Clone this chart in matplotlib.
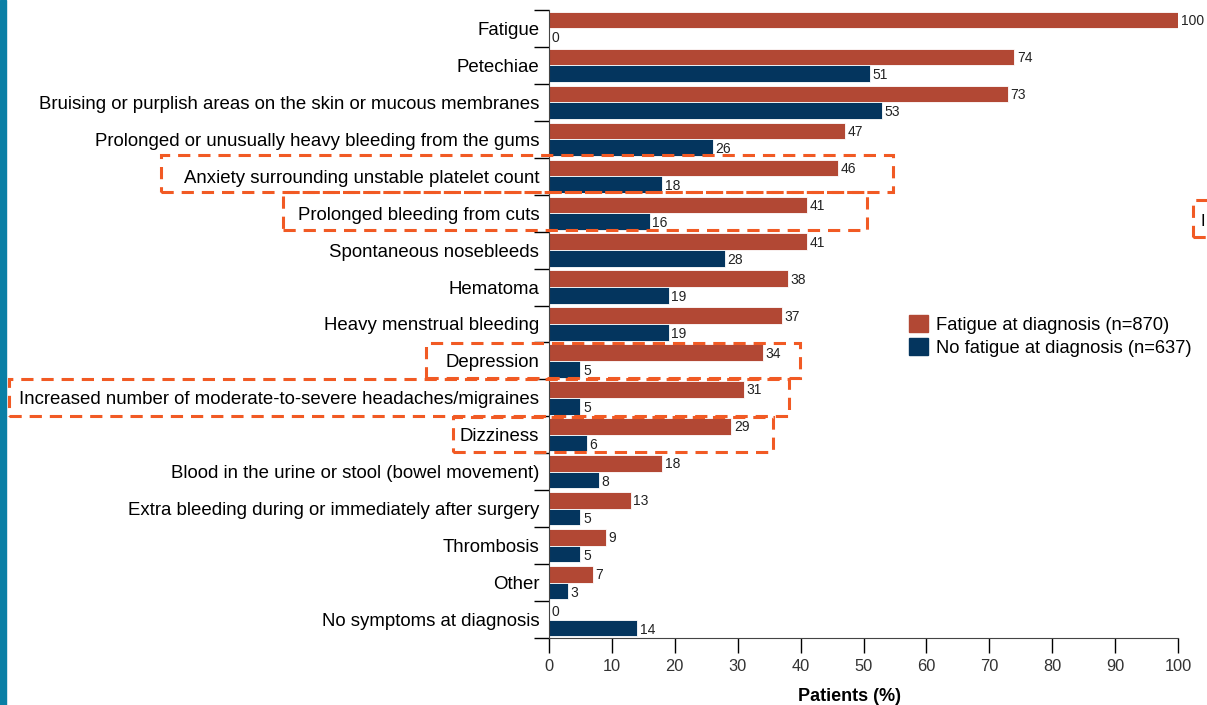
import matplotlib.pyplot as plt
from matplotlib.patches import Rectangle, Patch

plt.rcParams['font.family'] = ['Liberation Sans', 'DejaVu Sans']

# Symptome und Anteile der Patienten (%)
symptoms = [
    "Fatigue",
    "Petechiae",
    "Bruising or purplish areas on the skin or mucous membranes",
    "Prolonged or unusually heavy bleeding from the gums",
    "Anxiety surrounding unstable platelet count",
    "Prolonged bleeding from cuts",
    "Spontaneous nosebleeds",
    "Hematoma",
    "Heavy menstrual bleeding",
    "Depression",
    "Increased number of moderate-to-severe headaches/migraines",
    "Dizziness",
    "Blood in the urine or stool (bowel movement)",
    "Extra bleeding during or immediately after surgery",
    "Thrombosis",
    "Other",
    "No symptoms at diagnosis",
]
fatigue = [100, 74, 73, 47, 46, 41, 41, 38, 37, 34, 31, 29, 18, 13, 9, 7, 0]
no_fatigue = [0, 51, 53, 26, 18, 16, 28, 19, 19, 5, 5, 6, 8, 5, 5, 3, 14]
series_labels = ["Fatigue at diagnosis (n=870)", "No fatigue at diagnosis (n=637)"]

red = "#b24834"
blue = "#04355e"
orange = "#f15a24"

W, H = 1207, 705
fig = plt.figure(figsize=(W / 100, H / 100), dpi=100)
ax = fig.add_axes([549 / W, 67 / H, 629 / W, 628 / H])

pos = list(range(len(symptoms)))
h = 0.45
ax.barh([p - 0.225 for p in pos], fatigue, height=h, color=red, edgecolor="white", linewidth=0.6)
ax.barh([p + 0.225 for p in pos], no_fatigue, height=h, color=blue, edgecolor="white", linewidth=0.6)

# Werte an die Balken schreiben
for p, v in zip(pos, fatigue):
    ax.text(v + 0.4, p - 0.2, str(v), va="center", ha="left", fontsize=10, color="#222222")
for p, v in zip(pos, no_fatigue):
    ax.text(v + 0.4, p + 0.27, str(v), va="center", ha="left", fontsize=10, color="#222222")

ax.set_xlim(0, 100)
ax.set_ylim(len(symptoms) - 0.5, -0.5)
ax.set_xticks(range(0, 101, 10))
ax.tick_params(axis="x", length=11, width=1, labelsize=11.8, labelcolor="#333333", pad=4)

ax.set_yticks(pos)
ax.set_yticklabels(symptoms, fontsize=13.4)
ax.set_yticks([p - 0.5 for p in pos] + [len(symptoms) - 0.5], minor=True)
ax.tick_params(axis="y", which="major", length=0, pad=7)
ax.tick_params(axis="y", which="minor", length=11, width=1)

for s in ["top", "right"]:
    ax.spines[s].set_visible(False)
ax.spines["left"].set_color("#444444")
ax.spines["bottom"].set_color("#444444")

ax.set_xlabel("Patients (%)", fontsize=13, fontweight="bold")
ax.xaxis.set_label_coords(0.477, -0.08)

ax.legend(handles=[Patch(color=red), Patch(color=blue)], labels=series_labels,
          loc="upper left", bbox_to_anchor=(900 / W, 1 - 306 / H), bbox_transform=fig.transFigure,
          frameon=False, fontsize=13.2, borderpad=0, handlelength=1.0, handleheight=1.0,
          handletextpad=0.45, labelspacing=0.25)

# Farbiger Rand links
fig.patches.append(Rectangle((0, 0), 6 / W, 1, transform=fig.transFigure, color="#0a7fa5"))

# Gestrichelte Markierungen um einzelne Symptome (Pixel: x0, y0, x1, y1)
boxes = [
    (161, 155, 893, 192),
    (283, 192, 867, 230),
    (426, 343, 800, 378),
    (9, 379, 789, 416),
    (453, 417, 773, 452),
    (1193, 200, 1230, 237),
]
for x0, y0, x1, y1 in boxes:
    fig.patches.append(Rectangle((x0 / W, 1 - y1 / H), (x1 - x0) / W, (y1 - y0) / H,
                                 transform=fig.transFigure, fill=False, edgecolor=orange,
                                 linewidth=2.2, linestyle=(0, (4, 2.6))))
fig.text(1201 / W, 1 - 221 / H, "I", fontsize=12, va="center", ha="left")

fig.savefig("out.png", dpi=100)
